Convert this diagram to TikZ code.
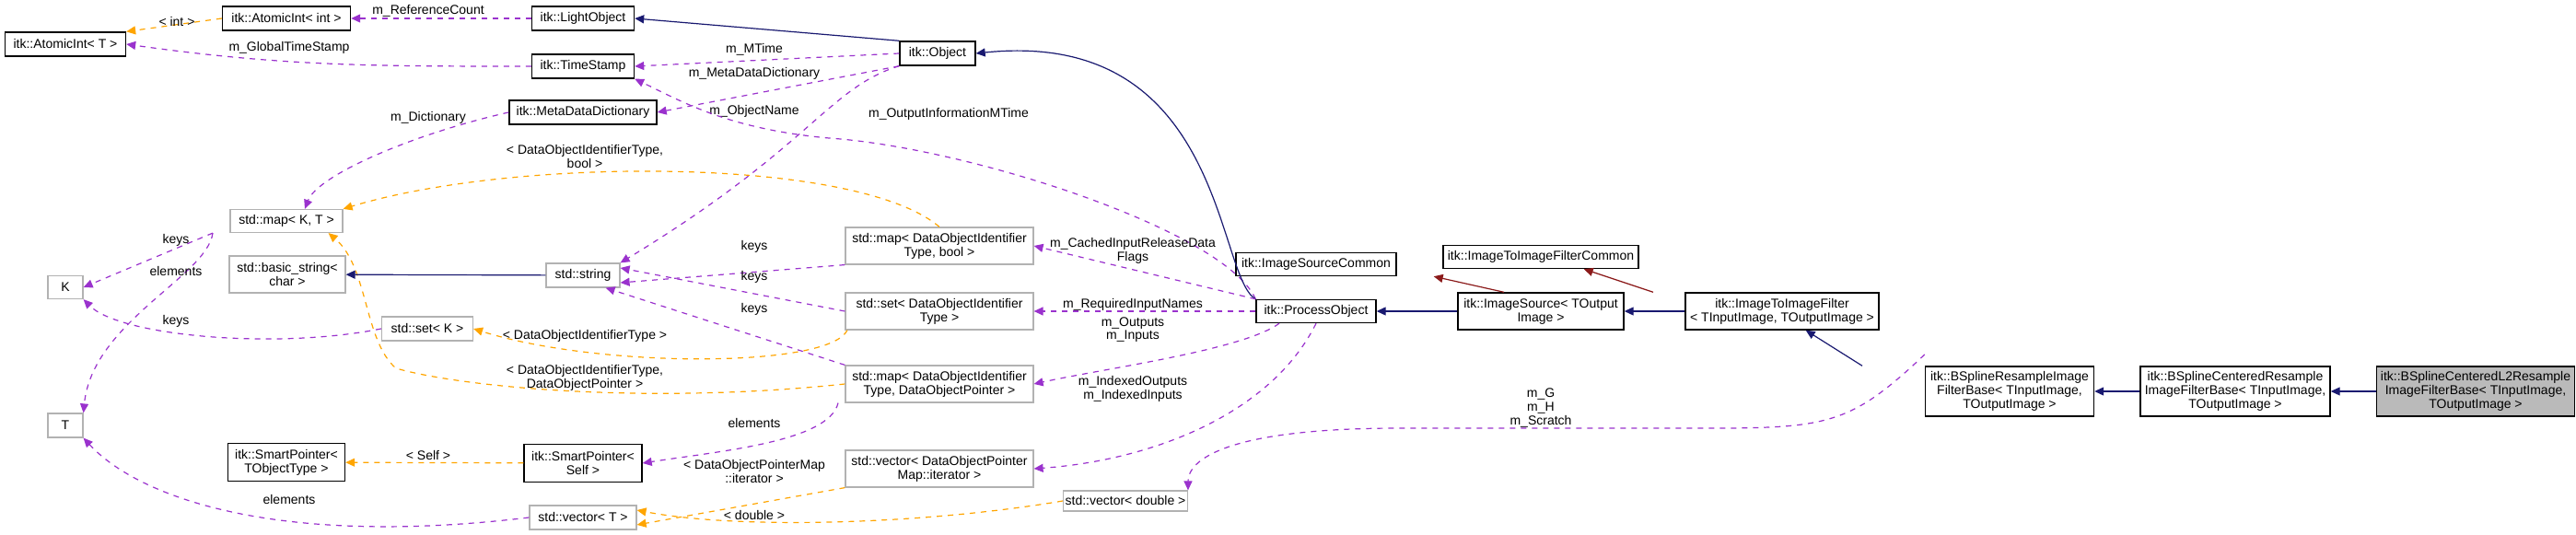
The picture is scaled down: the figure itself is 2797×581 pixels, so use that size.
\documentclass[tikz,border=0pt]{standalone}
\usepackage{fontspec}
\setmainfont{Liberation Sans}
\usetikzlibrary{arrows.meta}
\definecolor{pu}{HTML}{9A32CD}
\definecolor{orr}{HTML}{FFA500}
\definecolor{nv}{HTML}{191970}
\definecolor{dr}{HTML}{8B1A1A}
\begin{document}
\begin{tikzpicture}[x=0.5pt,y=-0.5pt,
  every node/.style={font=\fontsize{7}{7.4}\selectfont, inner sep=1pt, align=center},
  box/.style={draw=black, line width=0.7pt, fill=white},
  gbox/.style={draw=black!30, line width=0.6pt, fill=white},
  tip/.style={-{Triangle[length=5pt,width=4.5pt]}},
  use/.style={tip, pu, dashed, line width=0.6pt},
  tpl/.style={tip, orr, dashed, line width=0.6pt},
  inh/.style={tip, nv, line width=0.6pt},
  prv/.style={tip, dr, line width=0.6pt},
  lab/.style={fill=none}]
\useasboundingbox (0,0) rectangle (2797,581);
% nodes
\node[box, minimum width=65.5pt, minimum height=13pt] (aT) at (71,48) {itk::AtomicInt< T >};
\node[box, minimum width=69.5pt, minimum height=13pt] (aint) at (311,20) {itk::AtomicInt< int >};
\node[box, minimum width=55.5pt, minimum height=13pt] (light) at (633,20) {itk::LightObject};
\node[box, minimum width=41pt, minimum height=13pt] (obj) at (1018,58) {itk::Object};
\node[box, minimum width=55.5pt, minimum height=13pt] (ts) at (633,72) {itk::TimeStamp};
\node[box, minimum width=80pt, minimum height=13pt] (mdd) at (633,122) {itk::MetaDataDictionary};
\node[gbox, minimum width=61pt, minimum height=12.5pt] (mapKT) at (311,240) {std::map< K, T >};
\node[gbox, minimum width=63pt, minimum height=20pt] (bstr) at (312,298) {std::basic\_string<\\char >};
\node[gbox, minimum width=40pt, minimum height=13pt] (str) at (633,299) {std::string};
\node[gbox, minimum width=19pt, minimum height=12.5pt] (K) at (71,312) {K};
\node[gbox, minimum width=19pt, minimum height=13pt] (T) at (71,462) {T};
\node[gbox, minimum width=49.5pt, minimum height=13pt] (setK) at (464,357) {std::set< K >};
\node[gbox, minimum width=102pt, minimum height=20pt] (mapB) at (1020,267) {std::map< DataObjectIdentifier\\Type, bool >};
\node[gbox, minimum width=102pt, minimum height=20pt] (setD) at (1020,338) {std::set< DataObjectIdentifier\\Type >};
\node[gbox, minimum width=102pt, minimum height=20pt] (mapP) at (1020,417) {std::map< DataObjectIdentifier\\Type, DataObjectPointer >};
\node[gbox, minimum width=102pt, minimum height=20pt] (vecI) at (1020,509) {std::vector< DataObjectPointer\\Map::iterator >};
\node[box, minimum width=63.5pt, minimum height=20.5pt] (spT) at (311,502) {itk::SmartPointer<\\TObjectType >};
\node[box, minimum width=64pt, minimum height=20.5pt] (spS) at (633,503) {itk::SmartPointer<\\Self >};
\node[gbox, minimum width=58pt, minimum height=13pt] (vecT) at (633,562) {std::vector< T >};
\node[gbox, minimum width=65pt, minimum height=11pt] (vecD) at (1222,544) {std::vector< double >};
\node[box, minimum width=87pt, minimum height=12.5pt] (isc) at (1429,287) {itk::ImageSourceCommon};
\node[box, minimum width=106pt, minimum height=12.5pt] (i2ic) at (1673,279) {itk::ImageToImageFilterCommon};
\node[box, minimum width=65pt, minimum height=12.5pt] (po) at (1429,338) {itk::ProcessObject};
\node[box, minimum width=90pt, minimum height=20pt] (isrc) at (1673,338) {itk::ImageSource< TOutput\\Image >};
\node[box, minimum width=105pt, minimum height=20pt] (i2i) at (1935,338) {itk::ImageToImageFilter\\< TInputImage, TOutputImage >};
\node[box, minimum width=91.5pt, minimum height=27pt] (bsr) at (2182,425) {itk::BSplineResampleImage\\FilterBase< TInputImage,\\TOutputImage >};
\node[box, minimum width=103pt, minimum height=27pt] (bsc) at (2427,425) {itk::BSplineCenteredResample\\ImageFilterBase< TInputImage,\\TOutputImage >};
\node[box, fill=black!27, minimum width=107.5pt, minimum height=27pt] (l2) at (2688,425) {itk::BSplineCenteredL2Resample\\ImageFilterBase< TInputImage,\\TOutputImage >};
% edges
\draw[tpl] (aint.west) -- (aT.north east);
\node[lab] (l1) at (192,23) {< int >};
\draw[use] (light) -- (aint);
\node[lab] (l2a) at (465,12) {m\_ReferenceCount};
\draw[inh] (obj.north west) -- (light.east);
\draw[use] (ts.west) to[out=180,in=-8] (aT.east);
\node[lab] (l3) at (314,52) {m\_GlobalTimeStamp};
\draw[use] (obj.west) -- (ts.east);
\node[lab] (l4) at (819,54) {m\_MTime};
\draw[use] (obj.south west) -- (mdd.east);
\node[lab] (l5) at (819,80) {m\_MetaDataDictionary};
\draw[use] (obj.south west) .. controls (900,95) and (880,160) .. (str.north east);
\node[lab] (l6) at (819,121) {m\_ObjectName};
\draw[use] (po.north west) .. controls (1330,250) and (1050,160) .. (900,150) .. controls (790,140) and (740,110) .. (ts.south east);
\node[lab] (l7) at (1030,124) {m\_OutputInformationMTime};
\draw[inh] (po.north west) .. controls (1320,300) and (1330,30) .. (obj.east);
\draw[use] (mdd.west) .. controls (450,145) and (345,190) .. ([xshift=10]mapKT.north);
\node[lab] (l8) at (465,128) {m\_Dictionary};
\draw[tpl] (mapB.north) .. controls (930,170) and (560,170) .. (mapKT.north east);
\node[lab] (l9) at (635,170) {< DataObjectIdentifierType,\\bool >};
\draw[tpl] (mapP.west) .. controls (700,440) and (500,420) .. (430,400) .. controls (395,370) and (400,290) .. ([xshift=-8]mapKT.south east);
\node[lab] (l10) at (635,410) {< DataObjectIdentifierType,\\DataObjectPointer >};
\draw[use] ([xshift=-40]mapKT.south) -- (K.east);
\node[lab] (l11) at (191,261) {keys};
\draw[use] ([xshift=-40]mapKT.south) .. controls (225,300) and (100,350) .. (T.north east);
\node[lab] (l12) at (191,295) {elements};
\draw[inh] (str) -- (bstr);
\draw[use] (mapB.south west) -- ([yshift=-4]str.east);
\node[lab] (l13) at (819,268) {keys};
\draw[use] (setD.west) -- ([yshift=4]str.east);
\node[lab] (l14) at (819,301) {keys};
\draw[use] (mapP.north west) -- ([xshift=-8]str.south east);
\node[lab] (l15) at (819,336) {keys};
\draw[use] (setK.west) .. controls (300,380) and (130,365) .. (K.south east);
\node[lab] (l16) at (191,349) {keys};
\draw[tpl] ([xshift=-50]setD.south) .. controls (900,400) and (650,400) .. (setK.east);
\node[lab] (l17) at (635,365) {< DataObjectIdentifierType >};
\draw[use] ([xshift=-55]mapP.south) .. controls (900,480) and (780,490) .. (spS.east);
\node[lab] (l18) at (819,460) {elements};
\draw[tpl] (spS) -- (spT);
\node[lab] (l19) at (465,495) {< Self >};
\draw[use] (vecT.west) .. controls (300,595) and (150,540) .. (T.south east);
\node[lab] (l20) at (314,543) {elements};
\draw[tpl] (vecI.south west) -- ([yshift=-4]vecT.east);
\node[lab] (l21) at (819,512) {< DataObjectPointerMap\\::iterator >};
\draw[tpl] (vecD.west) .. controls (1000,570) and (800,575) .. ([yshift=4]vecT.east);
\node[lab] (l22) at (819,560) {< double >};
\draw[use] (po.north west) -- (mapB.east);
\node[lab] (l23) at (1230,272) {m\_CachedInputReleaseData\\Flags};
\draw[use] (po) -- (setD);
\node[lab] (l24) at (1230,331) {m\_RequiredInputNames};
\draw[use] ([xshift=-20]po.south) .. controls (1350,380) and (1200,400) .. (mapP.east);
\node[lab] (l25) at (1230,358) {m\_Outputs\\m\_Inputs};
\draw[use] (po.south) .. controls (1380,450) and (1250,500) .. (vecI.east);
\node[lab] (l26) at (1230,422) {m\_IndexedOutputs\\m\_IndexedInputs};
\draw[inh] (isrc) -- (po);
\draw[prv] ([xshift=-20]isrc.north) -- ([xshift=20]isc.south east);
\draw[inh] (i2i) -- (isrc);
\draw[prv] ([xshift=-70]i2i.north) -- ([xshift=-30]i2ic.south east);
\draw[inh] ([xshift=-80]bsr.north) -- ([xshift=-40]i2i.south east);
\draw[use] ([yshift=20]bsr.west) .. controls (2000,470) and (1980,465) .. (1800,465) -- (1520,465) .. controls (1330,465) and (1290,500) .. (vecD.north east);
\node[lab] (l27) at (1673,443) {m\_G\\m\_H\\m\_Scratch};
\draw[inh] (bsc) -- (bsr);
\draw[inh] (l2) -- (bsc);
\end{tikzpicture}
\end{document}
